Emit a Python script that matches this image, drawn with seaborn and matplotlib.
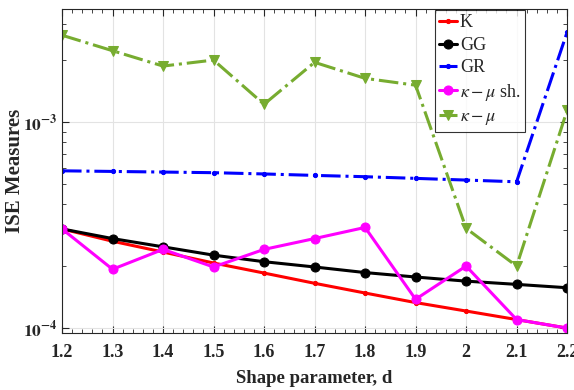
import matplotlib
matplotlib.use("Agg")
import matplotlib.pyplot as plt
import matplotlib.ticker as mticker
import numpy as np
import seaborn as sns

d = [1.2, 1.3, 1.4, 1.5, 1.6, 1.7, 1.8, 1.9, 2.0, 2.1, 2.2]
ise_k = [3.03e-4, 2.64e-4, 2.34e-4, 2.07e-4, 1.85e-4, 1.65e-4, 1.48e-4, 1.33e-4, 1.21e-4, 1.10e-4, 1.00e-4]
ise_gg = [3.03e-4, 2.72e-4, 2.48e-4, 2.26e-4, 2.10e-4, 1.98e-4, 1.86e-4, 1.77e-4, 1.69e-4, 1.63e-4, 1.57e-4]
ise_gr = [5.80e-4, 5.76e-4, 5.72e-4, 5.68e-4, 5.60e-4, 5.51e-4, 5.43e-4, 5.33e-4, 5.23e-4, 5.13e-4, 2.73e-3]
ise_kmu_sh = [3.03e-4, 1.93e-4, 2.41e-4, 1.98e-4, 2.41e-4, 2.72e-4, 3.08e-4, 1.38e-4, 2.00e-4, 1.10e-4, 1.00e-4]
ise_kmu = [2.64e-3, 2.22e-3, 1.87e-3, 2.00e-3, 1.22e-3, 1.95e-3, 1.63e-3, 1.51e-3, 3.05e-4, 2.00e-4, 1.14e-3]
xtick_labels = ["1.2", "1.3", "1.4", "1.5", "1.6", "1.7", "1.8", "1.9", "2", "2.1", "2.2"]

sns.set_style("ticks")
plt.rcParams["font.family"] = ["Liberation Serif", "DejaVu Serif"]
plt.rcParams["mathtext.fontset"] = "stix"

fig = plt.figure(figsize=(5.74, 3.9), dpi=100)
ax = fig.add_axes([0.108, 0.146, 0.880, 0.831])

series = [
    (ise_k, "K", "red", "o", 3, "-"),
    (ise_gg, "GG", "black", "o", 6.5, "-"),
    (ise_gr, "GR", "blue", "o", 3, "-."),
    (ise_kmu_sh, r"$\kappa-\mu$ sh.", "magenta", "o", 6.5, "-"),
    (ise_kmu, r"$\kappa-\mu$", "#77AC30", "v", 7, "-."),
]
for vals, lab, col, mk, ms, ls in series:
    sns.lineplot(x=d, y=vals, ax=ax, color=col, marker=mk, markersize=ms,
                 markeredgecolor=col, linestyle=ls, linewidth=2.2, label=lab)

ax.set_yscale("log")
ax.set_xlim(1.2, 2.2)
ax.set_ylim(9.46e-5, 3.54e-3)
ax.set_xticks(d)
ax.set_xticklabels(xtick_labels)
ax.xaxis.set_minor_locator(mticker.MultipleLocator(0.02))
ax.yaxis.set_major_locator(mticker.LogLocator(base=10))
ax.yaxis.set_minor_locator(mticker.LogLocator(base=10, subs=np.arange(2, 10), numticks=20))
ax.yaxis.set_minor_formatter(mticker.NullFormatter())
ax.yaxis.set_major_formatter(mticker.FuncFormatter(
    lambda v, p: r"$\mathbf{10^{%d}}$" % round(np.log10(v))))
ax.grid(True, which="major", color="#e3e3e3", linewidth=0.8)
ax.tick_params(which="both", direction="in", top=True, right=True)
ax.tick_params(which="major", length=5)
ax.tick_params(axis="x", which="major", labelsize=13, pad=8)
ax.tick_params(axis="y", which="major", labelsize=12.5, pad=3)
ax.tick_params(which="minor", length=3)
for lbl in ax.get_xticklabels() + ax.get_yticklabels():
    lbl.set_fontweight("bold")
for s in ax.spines.values():
    s.set_color("#262626")
    s.set_linewidth(0.8)

ax.set_xlabel("Shape parameter, d", fontsize=13.5, fontweight="bold")
ax.set_ylabel("ISE Measures", fontsize=15, fontweight="bold")
ax.xaxis.set_label_coords(0.5, -0.113)
ax.yaxis.set_label_coords(-0.073, 0.5)

leg = ax.legend(loc="upper right", bbox_to_anchor=(0.917, 0.997), fontsize=13,
                frameon=True, fancybox=False, edgecolor="black", handlelength=1.0,
                handletextpad=0.15, borderpad=0.25, labelspacing=0.3, borderaxespad=0)
leg.get_frame().set_linewidth(0.8)

fig.savefig("out.png", dpi=100)
